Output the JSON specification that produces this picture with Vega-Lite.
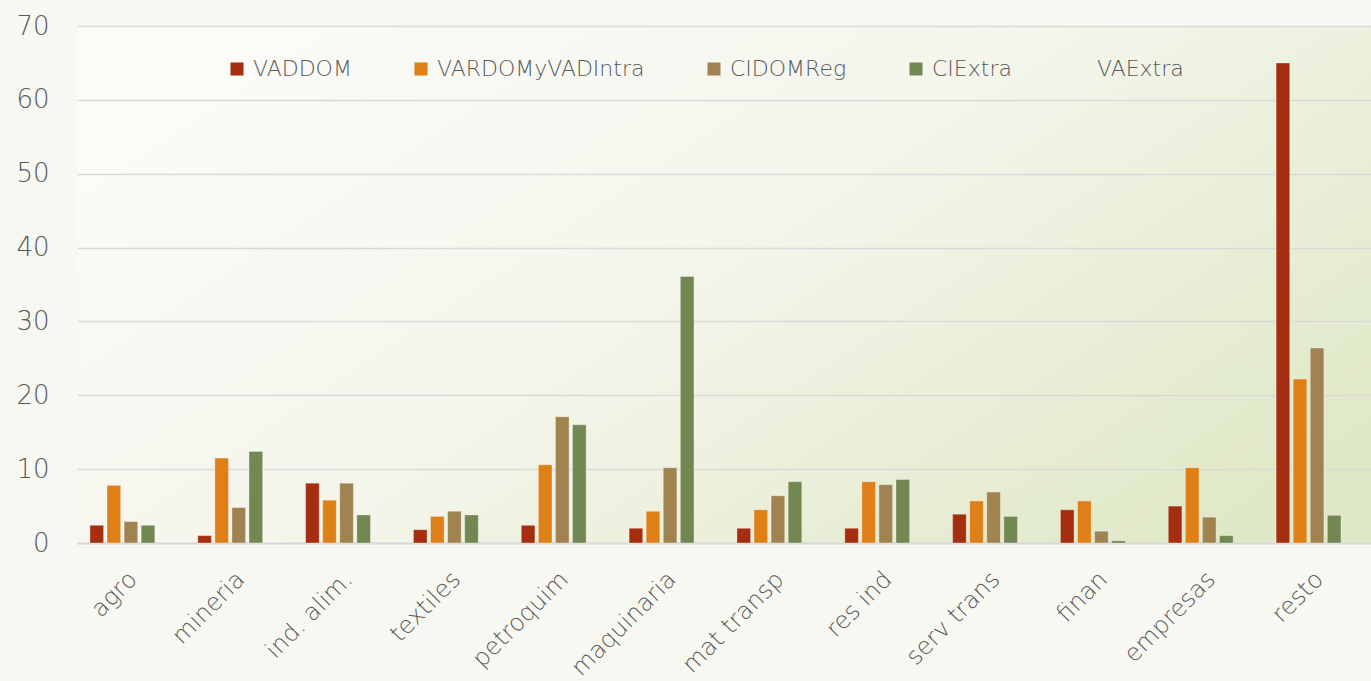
{
  "$schema": "https://vega.github.io/schema/vega-lite/v6.json",
  "width": 1294,
  "height": 517,
  "autosize": {"type": "none"},
  "padding": {"left": 77, "top": 26, "right": 0, "bottom": 138},
  "background": "#f7f8f1",
  "config": {
    "font": "DejaVu Sans",
    "view": {
      "stroke": null,
      "fill": {
        "gradient": "linear",
        "x1": 0, "y1": 0.2, "x2": 1, "y2": 0.8,
        "stops": [
          {"offset": 0, "color": "#fbfbf8"},
          {"offset": 0.45, "color": "#f4f6ec"},
          {"offset": 1, "color": "#dfe8c6"}
        ]
      }
    }
  },
  "data": {
    "values": [
      {"cat": "agro", "serie": "VADDOM", "value": 2.4},
      {"cat": "agro", "serie": "VARDOMyVADIntra", "value": 7.8},
      {"cat": "agro", "serie": "CIDOMReg", "value": 2.9},
      {"cat": "agro", "serie": "CIExtra", "value": 2.4},
      {"cat": "agro", "serie": "VAExtra", "value": null},
      {"cat": "mineria", "serie": "VADDOM", "value": 1.0},
      {"cat": "mineria", "serie": "VARDOMyVADIntra", "value": 11.5},
      {"cat": "mineria", "serie": "CIDOMReg", "value": 4.8},
      {"cat": "mineria", "serie": "CIExtra", "value": 12.4},
      {"cat": "mineria", "serie": "VAExtra", "value": null},
      {"cat": "ind. alim.", "serie": "VADDOM", "value": 8.1},
      {"cat": "ind. alim.", "serie": "VARDOMyVADIntra", "value": 5.8},
      {"cat": "ind. alim.", "serie": "CIDOMReg", "value": 8.1},
      {"cat": "ind. alim.", "serie": "CIExtra", "value": 3.8},
      {"cat": "ind. alim.", "serie": "VAExtra", "value": null},
      {"cat": "textiles", "serie": "VADDOM", "value": 1.8},
      {"cat": "textiles", "serie": "VARDOMyVADIntra", "value": 3.6},
      {"cat": "textiles", "serie": "CIDOMReg", "value": 4.3},
      {"cat": "textiles", "serie": "CIExtra", "value": 3.8},
      {"cat": "textiles", "serie": "VAExtra", "value": null},
      {"cat": "petroquim", "serie": "VADDOM", "value": 2.4},
      {"cat": "petroquim", "serie": "VARDOMyVADIntra", "value": 10.6},
      {"cat": "petroquim", "serie": "CIDOMReg", "value": 17.1},
      {"cat": "petroquim", "serie": "CIExtra", "value": 16.0},
      {"cat": "petroquim", "serie": "VAExtra", "value": null},
      {"cat": "maquinaria", "serie": "VADDOM", "value": 2.0},
      {"cat": "maquinaria", "serie": "VARDOMyVADIntra", "value": 4.3},
      {"cat": "maquinaria", "serie": "CIDOMReg", "value": 10.2},
      {"cat": "maquinaria", "serie": "CIExtra", "value": 36.1},
      {"cat": "maquinaria", "serie": "VAExtra", "value": null},
      {"cat": "mat transp", "serie": "VADDOM", "value": 2.0},
      {"cat": "mat transp", "serie": "VARDOMyVADIntra", "value": 4.5},
      {"cat": "mat transp", "serie": "CIDOMReg", "value": 6.4},
      {"cat": "mat transp", "serie": "CIExtra", "value": 8.3},
      {"cat": "mat transp", "serie": "VAExtra", "value": null},
      {"cat": "res ind", "serie": "VADDOM", "value": 2.0},
      {"cat": "res ind", "serie": "VARDOMyVADIntra", "value": 8.3},
      {"cat": "res ind", "serie": "CIDOMReg", "value": 7.9},
      {"cat": "res ind", "serie": "CIExtra", "value": 8.6},
      {"cat": "res ind", "serie": "VAExtra", "value": null},
      {"cat": "serv trans", "serie": "VADDOM", "value": 3.9},
      {"cat": "serv trans", "serie": "VARDOMyVADIntra", "value": 5.7},
      {"cat": "serv trans", "serie": "CIDOMReg", "value": 6.9},
      {"cat": "serv trans", "serie": "CIExtra", "value": 3.6},
      {"cat": "serv trans", "serie": "VAExtra", "value": null},
      {"cat": "finan", "serie": "VADDOM", "value": 4.5},
      {"cat": "finan", "serie": "VARDOMyVADIntra", "value": 5.7},
      {"cat": "finan", "serie": "CIDOMReg", "value": 1.6},
      {"cat": "finan", "serie": "CIExtra", "value": 0.3},
      {"cat": "finan", "serie": "VAExtra", "value": null},
      {"cat": "empresas", "serie": "VADDOM", "value": 5.0},
      {"cat": "empresas", "serie": "VARDOMyVADIntra", "value": 10.2},
      {"cat": "empresas", "serie": "CIDOMReg", "value": 3.5},
      {"cat": "empresas", "serie": "CIExtra", "value": 1.0},
      {"cat": "empresas", "serie": "VAExtra", "value": null},
      {"cat": "resto", "serie": "VADDOM", "value": 65.0},
      {"cat": "resto", "serie": "VARDOMyVADIntra", "value": 22.2},
      {"cat": "resto", "serie": "CIDOMReg", "value": 26.4},
      {"cat": "resto", "serie": "CIExtra", "value": 3.75},
      {"cat": "resto", "serie": "VAExtra", "value": null}
    ]
  },
  "mark": {"type": "bar", "stroke": "#ffffff", "strokeOpacity": 0.35, "strokeWidth": 1},
  "encoding": {
    "x": {
      "field": "cat",
      "type": "nominal",
      "sort": ["agro", "mineria", "ind. alim.", "textiles", "petroquim", "maquinaria", "mat transp", "res ind", "serv trans", "finan", "empresas", "resto"],
      "scale": {"paddingInner": 0.24, "paddingOuter": 0.12},
      "axis": {
        "title": null,
        "labelAngle": -45,
        "labelFontSize": 24,
        "labelFontWeight": 200,
        "labelColor": "#595959",
        "labelPadding": 24,
        "labelOffset": -6,
        "ticks": false,
        "domainColor": "#d9d9d9",
        "domainWidth": 2
      }
    },
    "xOffset": {
      "field": "serie",
      "type": "nominal",
      "sort": ["VADDOM", "VARDOMyVADIntra", "CIDOMReg", "CIExtra", "VAExtra"],
      "scale": {"domain": ["VADDOM", "VARDOMyVADIntra", "CIDOMReg", "CIExtra", "VAExtra"], "paddingInner": 0.2, "paddingOuter": 0}
    },
    "y": {
      "field": "value",
      "type": "quantitative",
      "scale": {"domain": [0, 70], "nice": false},
      "axis": {
        "title": null,
        "values": [0, 10, 20, 30, 40, 50, 60, 70],
        "labelFontSize": 26,
        "labelFontWeight": 200,
        "labelColor": "#595959",
        "labelPadding": 28,
        "ticks": false,
        "domain": false,
        "gridColor": "#d9d9d9",
        "gridWidth": 1.5
      }
    },
    "color": {
      "field": "serie",
      "type": "nominal",
      "scale": {
        "domain": ["VADDOM", "VARDOMyVADIntra", "CIDOMReg", "CIExtra", "VAExtra"],
        "range": ["#a52e10", "#df7f18", "#a08350", "#738752", "transparent"]
      },
      "legend": {
        "title": null,
        "orient": "none",
        "legendX": 149,
        "legendY": 32,
        "direction": "horizontal",
        "columns": 5,
        "columnPadding": 58,
        "symbolType": "square",
        "symbolSize": 170,
        "symbolStrokeWidth": 0,
        "labelFontSize": 22,
        "labelFontWeight": 200,
        "labelLimit": 0,
        "labelColor": "#595959",
        "labelOffset": 5
      }
    }
  }
}
